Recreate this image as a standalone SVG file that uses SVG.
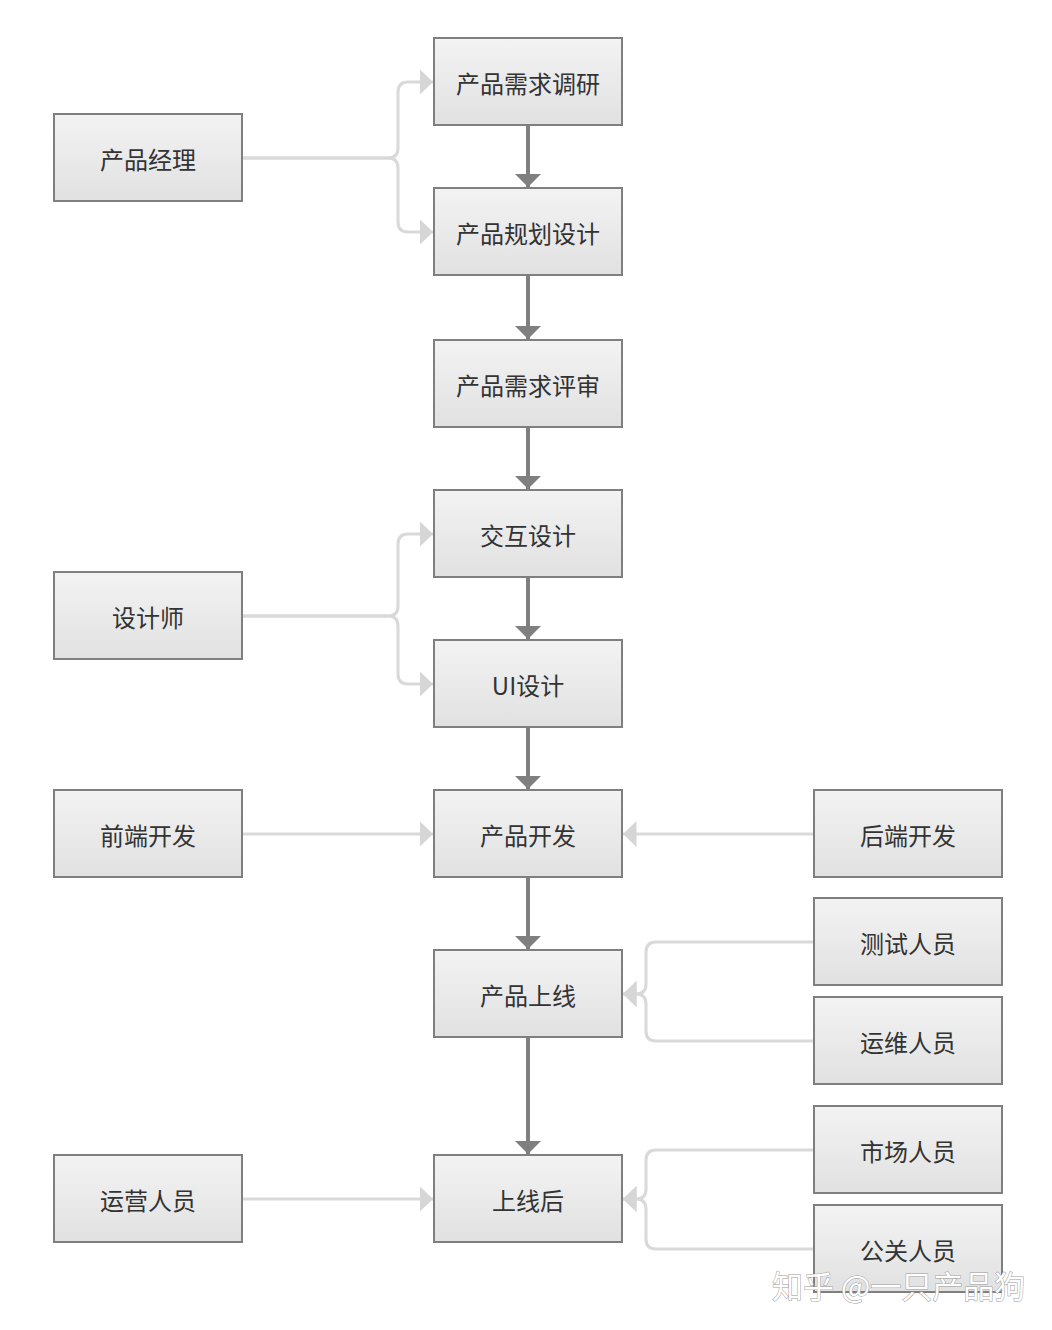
<svg xmlns="http://www.w3.org/2000/svg" width="1052" height="1330" viewBox="0 0 1052 1330">
<defs>
<linearGradient id="g" x1="0" y1="0" x2="0" y2="1">
<stop offset="0" stop-color="#f3f3f3"/>
<stop offset="1" stop-color="#e1e1e1"/>
</linearGradient>
<marker id="ad" viewBox="0 0 10 10" refX="10" refY="5" markerWidth="3.3" markerHeight="6.6" markerUnits="strokeWidth" orient="auto" preserveAspectRatio="none">
<path d="M0,0 L10,5 L0,10 Z" fill="#7f7f7f"/>
</marker>
<marker id="al" viewBox="0 0 10 10" refX="10" refY="5" markerWidth="4.5" markerHeight="8.7" markerUnits="strokeWidth" orient="auto" preserveAspectRatio="none">
<path d="M0,0 L10,5 L0,10 Z" fill="#d6d6d6"/>
</marker>
</defs>
<style>
.box{fill:url(#g);stroke:#7f7f7f;stroke-width:2}
.t{font-family:"Noto Sans CJK SC","Liberation Sans",sans-serif;font-size:24px;fill:#333;text-anchor:middle;dominant-baseline:central}
.d{fill:none;stroke:#7f7f7f;stroke-width:4}
.l{fill:none;stroke:#d9d9d9;stroke-width:3}
.wm{font-family:"Noto Sans CJK SC",sans-serif;font-size:31px;fill:#fff;stroke:#9a9a9a;stroke-width:1;paint-order:stroke}
</style>
<rect width="1052" height="1330" fill="#fff"/>
<g id="connectors">
<path class="d" d="M528,126 V187" marker-end="url(#ad)"/>
<path class="d" d="M528,276 V339" marker-end="url(#ad)"/>
<path class="d" d="M528,428 V489" marker-end="url(#ad)"/>
<path class="d" d="M528,578 V639" marker-end="url(#ad)"/>
<path class="d" d="M528,728 V789" marker-end="url(#ad)"/>
<path class="d" d="M528,878 V949" marker-end="url(#ad)"/>
<path class="d" d="M528,1038 V1154" marker-end="url(#ad)"/>
<path class="l" d="M243,158 H388 Q398,158 398,148 V92 Q398,82 408,82 H433" marker-end="url(#al)"/>
<path class="l" d="M243,158 H388 Q398,158 398,168 V222 Q398,232 408,232 H433" marker-end="url(#al)"/>
<path class="l" d="M243,616 H388 Q398,616 398,606 V544 Q398,534 408,534 H433" marker-end="url(#al)"/>
<path class="l" d="M243,616 H388 Q398,616 398,626 V674 Q398,684 408,684 H433" marker-end="url(#al)"/>
<path class="l" d="M243,834 H433" marker-end="url(#al)"/>
<path class="l" d="M813,834 H623" marker-end="url(#al)"/>
<path class="l" d="M813,942 H656 Q646,942 646,952 V984 Q646,994 636,994 H623" marker-end="url(#al)"/>
<path class="l" d="M813,1041 H656 Q646,1041 646,1031 V1004 Q646,994 636,994 H623" marker-end="url(#al)"/>
<path class="l" d="M243,1199 H433" marker-end="url(#al)"/>
<path class="l" d="M813,1150 H656 Q646,1150 646,1160 V1189 Q646,1199 636,1199 H623" marker-end="url(#al)"/>
<path class="l" d="M813,1249 H656 Q646,1249 646,1239 V1209 Q646,1199 636,1199 H623" marker-end="url(#al)"/>
</g>
<g id="n1"><rect class="box" x="434" y="38" width="188" height="87"/><text class="t" x="528" y="82">产品需求调研</text></g>
<g id="n2"><rect class="box" x="434" y="188" width="188" height="87"/><text class="t" x="528" y="232">产品规划设计</text></g>
<g id="n3"><rect class="box" x="434" y="340" width="188" height="87"/><text class="t" x="528" y="384">产品需求评审</text></g>
<g id="n4"><rect class="box" x="434" y="490" width="188" height="87"/><text class="t" x="528" y="534">交互设计</text></g>
<g id="n5"><rect class="box" x="434" y="640" width="188" height="87"/><text class="t" x="528" y="684">UI设计</text></g>
<g id="n6"><rect class="box" x="434" y="790" width="188" height="87"/><text class="t" x="528" y="834">产品开发</text></g>
<g id="n7"><rect class="box" x="434" y="950" width="188" height="87"/><text class="t" x="528" y="994">产品上线</text></g>
<g id="n8"><rect class="box" x="434" y="1155" width="188" height="87"/><text class="t" x="528" y="1199">上线后</text></g>
<g id="pm"><rect class="box" x="54" y="114" width="188" height="87"/><text class="t" x="148" y="158">产品经理</text></g>
<g id="designer"><rect class="box" x="54" y="572" width="188" height="87"/><text class="t" x="148" y="616">设计师</text></g>
<g id="fe"><rect class="box" x="54" y="790" width="188" height="87"/><text class="t" x="148" y="834">前端开发</text></g>
<g id="ops"><rect class="box" x="54" y="1155" width="188" height="87"/><text class="t" x="148" y="1199">运营人员</text></g>
<g id="be"><rect class="box" x="814" y="790" width="188" height="87"/><text class="t" x="908" y="834">后端开发</text></g>
<g id="qa"><rect class="box" x="814" y="898" width="188" height="87"/><text class="t" x="908" y="942">测试人员</text></g>
<g id="sre"><rect class="box" x="814" y="997" width="188" height="87"/><text class="t" x="908" y="1041">运维人员</text></g>
<g id="mkt"><rect class="box" x="814" y="1106" width="188" height="87"/><text class="t" x="908" y="1150">市场人员</text></g>
<g id="pr"><rect class="box" x="814" y="1205" width="188" height="87"/><text class="t" x="908" y="1249">公关人员</text></g>
<text class="wm" x="772" y="1298">知乎 @一只产品狗</text>
</svg>
